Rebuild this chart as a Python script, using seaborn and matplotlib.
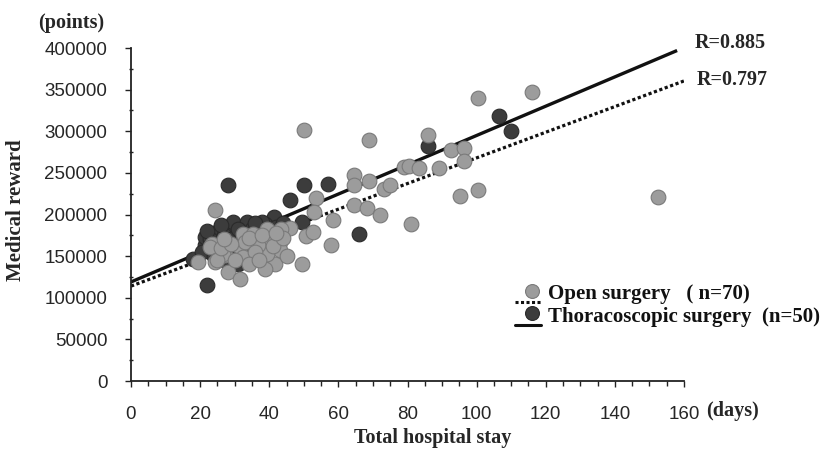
import matplotlib
matplotlib.use("Agg")
import matplotlib.pyplot as plt
from matplotlib.lines import Line2D
from matplotlib.legend_handler import HandlerBase
from matplotlib.ticker import MultipleLocator
import seaborn as sns
import pandas as pd

# ---- data ----
open_days = [50, 69, 100.5, 116, 86, 92.6, 96.4, 96.3, 79, 80.5, 83.4, 89, 64.6, 64.6, 68.8,
             73.3, 75, 95.2, 100.3, 81, 53.5, 64.6, 68.2, 72, 58.4, 53, 50.6, 52.8, 58, 49.4,
             46, 39.3, 43.3, 43.1, 39.3, 43.1, 41.7, 38.8, 24.3, 19.5, 23.3, 27.2, 24.3, 28.2,
             31.5, 31.5, 32.5, 35.4, 39.3, 39.3, 36.8, 33, 26.7, 22.9, 24.8, 32.5, 152.6,
             26, 29, 30, 34, 36, 38, 41, 44, 45, 27, 34, 37, 42]
open_reward = [302000, 290000, 340000, 347000, 295000, 277000, 280000, 264000, 257000, 258000,
               256000, 256000, 248000, 235000, 240000, 231000, 235000, 222000, 230000, 189000,
               220000, 211000, 208000, 200000, 194000, 203000, 174000, 179000, 163000, 140500,
               184000, 183000, 183000, 167000, 161000, 157000, 141000, 135000, 205000, 143000,
               165000, 151000, 143000, 131000, 123000, 161000, 177000, 177000, 169000, 153000,
               163000, 167000, 153000, 161000, 145000, 149000, 221000,
               160000, 165000, 145000, 172000, 155000, 175000, 162000, 172000, 150000, 170000,
               140000, 145000, 178000]

thoraco_days = [86, 106.5, 110, 50, 57, 46, 49.5, 66, 41.5, 28, 22, 18, 21.4, 20.4, 25, 27.7,
                34, 38.8, 25.8, 29.6, 33.5, 37.8, 21.4, 28.6,
                23, 24, 26, 27, 29, 30, 31, 32, 33, 35, 36, 37, 39, 40, 42, 43, 24, 27, 30, 35,
                44, 31, 26, 36, 40, 22]
thoraco_reward = [282000, 318000, 300000, 235000, 237000, 217000, 191000, 177000, 197000,
                  235000, 115000, 147000, 163000, 155000, 179000, 181000, 187000, 189000,
                  183000, 191000, 191000, 191000, 173000, 151000,
                  170000, 160000, 165000, 175000, 170000, 160000, 182000, 172000, 158000,
                  183000, 170000, 160000, 180000, 172000, 185000, 176000, 150000, 145000,
                  150000, 150000, 190000, 140000, 188000, 190000, 160000, 180000]

trend_x_solid = [0, 158]
trend_y_solid = [119000, 397000]
trend_x_dotted = [0, 161]
trend_y_dotted = [114000, 362000]

labels = ["Open surgery   ( n=70)", "Thoracoscopic surgery  (n=50)"]
r_labels = ["R=0.885", "R=0.797"]
x_ticks = [0, 20, 40, 60, 80, 100, 120, 140, 160]
y_ticks = [0, 50000, 100000, 150000, 200000, 250000, 300000, 350000, 400000]

# ---- style ----
sns.set_style("ticks")
plt.rcParams["font.family"] = ["Liberation Sans", "DejaVu Sans"]
SERIF = ["Liberation Serif", "DejaVu Serif"]

GRAY_FACE, GRAY_EDGE = "#9c9c9c", "#7a7a7a"
DARK_FACE, DARK_EDGE = "#3c3c3c", "#2a2a2a"

fig = plt.figure(figsize=(8.27, 4.5), dpi=100)
ax = fig.add_axes([0.1584, 0.1533, 0.6687, 0.74])

df_t = pd.DataFrame({"days": thoraco_days, "reward": thoraco_reward})
df_o = pd.DataFrame({"days": open_days, "reward": open_reward})

ax.plot(trend_x_solid, trend_y_solid, color="#111111", lw=2.4, solid_capstyle="butt", zorder=1)
ax.plot(trend_x_dotted, trend_y_dotted, color="#111111", lw=2.3, linestyle=(0, (1, 0.8)),
        dash_capstyle="butt", zorder=1)

sns.scatterplot(data=df_t, x="days", y="reward", ax=ax, s=112, color=DARK_FACE,
                edgecolor=DARK_EDGE, linewidth=0.8, zorder=2)
sns.scatterplot(data=df_o, x="days", y="reward", ax=ax, s=112, color=GRAY_FACE,
                edgecolor=GRAY_EDGE, linewidth=0.8, zorder=3)

ax.set_xlim(0, 160)
ax.set_ylim(0, 400000)
ax.set_xticks(x_ticks)
ax.set_yticks(y_ticks)
ax.set_yticklabels([str(v) for v in y_ticks])
ax.xaxis.set_minor_locator(MultipleLocator(5))
ax.yaxis.set_minor_locator(MultipleLocator(25000))
ax.tick_params(axis="x", which="major", direction="out", length=4, width=1, pad=14,
               labelsize=13.5, color="#222222")
ax.tick_params(axis="x", which="minor", direction="out", length=3.5, width=1, color="#222222")
ax.tick_params(axis="y", which="major", direction="out", length=4, width=1, pad=13,
               labelsize=13.5, color="#222222")
ax.tick_params(axis="y", which="minor", direction="inout", length=3, width=1, color="#222222")
for sp in ["top", "right"]:
    ax.spines[sp].set_visible(False)
for sp in ["left", "bottom"]:
    ax.spines[sp].set_color("#222222")
    ax.spines[sp].set_linewidth(1.3)

ax.set_xlabel("Total hospital stay", family=SERIF, fontweight="bold", fontsize=14.5)
ax.xaxis.set_label_coords(0.545, -0.142)
ax.set_ylabel("Medical reward", family=SERIF, fontweight="bold", fontsize=15)
ax.yaxis.set_label_coords(-0.19, 0.514)

ax.text(-0.168, 1.075, "(points)", transform=ax.transAxes, family=SERIF, fontweight="bold",
        fontsize=14.5, ha="left", va="center")
ax.annotate("(days)", xy=(166.5, 0), xycoords="data", xytext=(0, -30),
            textcoords="offset pixels", family=SERIF, fontweight="bold", fontsize=14.5,
            ha="left", va="center", annotation_clip=False)

ax.text(163.2, 406000, r_labels[0], family=SERIF, fontweight="bold", fontsize=14.5,
        ha="left", va="center", clip_on=False)
ax.text(163.8, 361000, r_labels[1], family=SERIF, fontweight="bold", fontsize=14.5,
        ha="left", va="center", clip_on=False)


class MarkerOverLine(HandlerBase):
    def __init__(self, face, edge, ls, **kw):
        super().__init__(**kw)
        self.face, self.edge, self.ls = face, edge, ls

    def create_artists(self, legend, orig_handle, xdescent, ydescent, width, height,
                       fontsize, trans):
        ln = Line2D([-xdescent, -xdescent + width * 0.95],
                    [-ydescent - height * 0.2] * 2, color="#111111", lw=2.2,
                    linestyle=self.ls, dash_capstyle="butt", transform=trans)
        mk = Line2D([-xdescent + width * 0.62], [-ydescent + height * 0.6], marker="o",
                    markersize=10, markerfacecolor=self.face, markeredgecolor=self.edge,
                    markeredgewidth=0.8, linestyle="none", transform=trans)
        return [ln, mk]


h_open = Line2D([], [])
h_thor = Line2D([], [])
leg = ax.legend([h_open, h_thor], labels, loc="upper left", bbox_to_anchor=(0.68, 0.315),
                frameon=False, handlelength=1.3, handletextpad=0.25, labelspacing=0.12,
                borderaxespad=0,
                prop={"family": SERIF, "weight": "bold", "size": 15},
                handler_map={h_open: MarkerOverLine(GRAY_FACE, GRAY_EDGE, (0, (1, 0.8))),
                             h_thor: MarkerOverLine(DARK_FACE, DARK_EDGE, "-")})
for t in leg.get_texts():
    t.set_color("#111111")

fig.savefig("out.png", dpi=100, facecolor="white")
